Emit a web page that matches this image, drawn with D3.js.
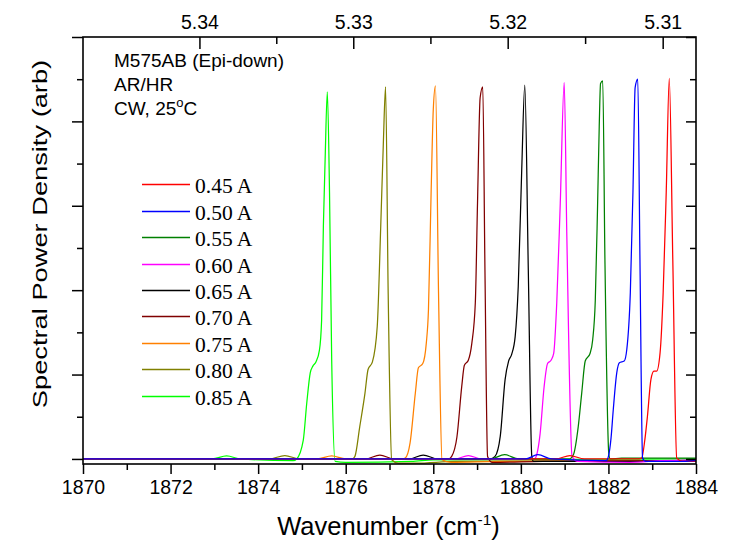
<!DOCTYPE html>
<html>
<head>
<meta charset="utf-8">
<script src="https://cdn.jsdelivr.net/npm/d3@7"></script>
<style>
  html, body { margin: 0; padding: 0; background: #fff; }
  svg { display: block; }
</style>
</head>
<body>
<svg id="chart" width="730" height="544"></svg>
<script>
// ---------------- DATA ----------------
const currents = ["0.45 A", "0.50 A", "0.55 A", "0.60 A", "0.65 A", "0.70 A", "0.75 A", "0.80 A", "0.85 A"];
const colors = ["#ff0000", "#0000ff", "#008000", "#ff00ff", "#000000", "#800000", "#ff8000", "#808000", "#00ff00"];

// spectra: [wavenumber (cm-1), spectral power density (arb)]
const s045 = [[1870,0],[1880.8,0],[1881.12,0.04],[1881.45,0],[1882.7,0],[1882.76,0.01],[1882.83,0.22],[1882.89,0.50],[1882.97,0.94],[1883.04,1.04],[1883.10,1.04],[1883.18,1.26],[1883.25,1.97],[1883.32,3.16],[1883.39,4.51],[1883.47,2.36],[1883.56,0.01],[1883.7,-0.03],[1884,-0.03]];
const s050 = [[1870,0],[1880.1,0],[1880.39,0.05],[1880.7,0],[1881.95,-0.02],[1882.00,0.03],[1882.06,0.25],[1882.11,0.58],[1882.19,1.02],[1882.25,1.14],[1882.36,1.16],[1882.42,1.30],[1882.50,1.97],[1882.56,3.16],[1882.61,4.40],[1882.67,4.50],[1882.72,2.36],[1882.78,0.01],[1882.85,-0.03],[1883.6,-0.03],[1884,-0.02]];
const s055 = [[1870,0],[1879.3,0],[1879.63,0.05],[1879.95,0],[1881.1,0],[1881.20,0.05],[1881.31,0.38],[1881.39,0.78],[1881.47,1.16],[1881.58,1.25],[1881.64,1.41],[1881.70,1.88],[1881.75,2.95],[1881.79,3.94],[1881.82,4.45],[1881.87,4.48],[1881.92,2.36],[1882.01,0.05],[1882.04,0],[1882.3,0.01],[1884,0.01]];
const s060 = [[1870,0],[1878.5,0],[1878.8,0.04],[1879.1,0],[1880.3,0],[1880.33,0.01],[1880.44,0.30],[1880.53,0.85],[1880.61,1.13],[1880.69,1.17],[1880.75,1.25],[1880.82,1.85],[1880.90,3.03],[1880.99,4.46],[1881.05,2.64],[1881.17,0.03],[1881.3,-0.03],[1882.5,-0.04],[1883.2,-0.02],[1884,-0.01]];
const s065 = [[1870,0],[1877.45,0],[1877.77,0.045],[1878.1,0],[1879.3,0],[1879.41,0.03],[1879.53,0.27],[1879.64,0.94],[1879.72,1.16],[1879.79,1.24],[1879.87,1.45],[1879.94,2.04],[1880.02,3.43],[1880.09,4.43],[1880.17,2.24],[1880.25,0.03],[1880.29,-0.03],[1881,-0.03],[1882,-0.03],[1884,-0.02]];
const s070 = [[1870,0],[1876.45,0],[1876.78,0.045],[1877.1,0],[1878.35,0],[1878.42,0.03],[1878.54,0.26],[1878.65,0.86],[1878.71,1.11],[1878.80,1.17],[1878.88,1.37],[1878.96,1.85],[1879.01,3.03],[1879.07,4.28],[1879.13,4.41],[1879.18,2.24],[1879.24,0.03],[1879.35,-0.04],[1880.5,-0.03],[1884,-0.02]];
const s075 = [[1870,0],[1875.35,0],[1875.68,0.035],[1876.0,0],[1877.3,0],[1877.36,0.01],[1877.47,0.19],[1877.59,0.78],[1877.66,1.08],[1877.76,1.13],[1877.84,1.37],[1877.89,1.77],[1877.95,3.15],[1878.00,4.14],[1878.05,4.42],[1878.12,1.96],[1878.20,-0.01],[1878.4,-0.04],[1879.5,-0.03],[1884,-0.02]];
const s080 = [[1870,0],[1874.25,0],[1874.61,0.04],[1874.95,0],[1876.15,0],[1876.21,0.03],[1876.32,0.38],[1876.44,0.78],[1876.51,1.06],[1876.61,1.15],[1876.72,1.57],[1876.80,2.76],[1876.86,3.75],[1876.91,4.41],[1876.97,1.96],[1877.05,-0.01],[1877.2,-0.05],[1877.6,-0.05],[1878.5,-0.03],[1884,-0.02]];
const s085 = [[1870,0],[1872.95,0],[1873.28,0.035],[1873.6,0],[1874.8,-0.02],[1874.88,0],[1875.03,0.22],[1875.11,0.66],[1875.19,1.02],[1875.25,1.10],[1875.32,1.15],[1875.40,1.29],[1875.45,1.65],[1875.49,2.76],[1875.53,3.55],[1875.58,4.35],[1875.63,3.16],[1875.68,1.17],[1875.76,-0.03],[1876.0,-0.04],[1877.5,-0.03],[1878,-0.01],[1884,0]];
const spectra = [s045, s050, s055, s060, s065, s070, s075, s080, s085];
const drawOrder = [8, 7, 6, 5, 4, 3, 2, 0, 1];   // series indices, back to front

const bottomTicks = [1870, 1872, 1874, 1876, 1878, 1880, 1882, 1884];
const bottomMinor = [1871, 1873, 1875, 1877, 1879, 1881, 1883];
const topTicks = [5.34, 5.33, 5.32, 5.31];          // wavelength (µm)
const topMinor = [5.335, 5.325, 5.315];
const yMajor = [0, 1, 2, 3, 4, 5];
const yMinor = [0.5, 1.5, 2.5, 3.5, 4.5];
const notes = ["M575AB (Epi-down)", "AR/HR"];

// ---------------- LAYOUT ----------------
const L = 83, R = 696, T = 37, B = 464;
const svg = d3.select("#chart");
const x = d3.scaleLinear().domain([1870, 1884]).range([L, R]);
const y = d3.scaleLinear().domain([-0.06, 5]).range([B, T]);
const SANS = "'Liberation Sans', Arial, sans-serif";
const SERIF = "'Liberation Serif', 'Times New Roman', serif";

svg.append("defs").append("clipPath").attr("id", "clip")
  .append("rect").attr("x", L).attr("y", T).attr("width", R - L).attr("height", B - T);

// spectra
const line = d3.line().x(d => x(d[0])).y(d => y(d[1])).curve(d3.curveMonotoneX);
const g = svg.append("g").attr("clip-path", "url(#clip)");
drawOrder.forEach(i => {
  g.append("path").datum(spectra[i]).attr("d", line)
    .attr("fill", "none").attr("stroke", colors[i]).attr("stroke-width", 1.25)
    .attr("stroke-linejoin", "round");
});

// axes
function styleAxis(sel, fs) {
  sel.select(".domain").remove();
  sel.selectAll("line").attr("stroke", "#000").attr("stroke-width", 1.5);
  sel.selectAll("text").attr("font-family", SANS).attr("font-size", fs).attr("fill", "#000");
}
// bottom
svg.append("g").attr("transform", `translate(0,${B})`)
  .call(d3.axisBottom(x).tickValues(bottomTicks).tickFormat(d3.format("d")).tickSize(10).tickPadding(6))
  .call(s => styleAxis(s, 19.5));
svg.append("g").attr("transform", `translate(0,${B})`)
  .call(d3.axisBottom(x).tickValues(bottomMinor).tickFormat("").tickSize(6))
  .call(s => styleAxis(s, 19));
// top (wavelength in µm)
svg.append("g").attr("transform", `translate(0,${T})`)
  .call(d3.axisTop(x).tickValues(topTicks.map(l => 1e4 / l)).tickFormat((d, i) => topTicks[i].toFixed(2)).tickSize(-12).tickPadding(8.5))
  .call(s => styleAxis(s, 19.5));
svg.append("g").attr("transform", `translate(0,${T})`)
  .call(d3.axisTop(x).tickValues(topMinor.map(l => 1e4 / l)).tickFormat("").tickSize(-7))
  .call(s => styleAxis(s, 19));
// left (outward)
svg.append("g").attr("transform", `translate(${L},0)`)
  .call(d3.axisLeft(y).tickValues(yMajor).tickFormat("").tickSize(11))
  .call(s => styleAxis(s, 19));
svg.append("g").attr("transform", `translate(${L},0)`)
  .call(d3.axisLeft(y).tickValues(yMinor).tickFormat("").tickSize(6))
  .call(s => styleAxis(s, 19));
// right (inward)
svg.append("g").attr("transform", `translate(${R},0)`)
  .call(d3.axisRight(y).tickValues(yMajor).tickFormat("").tickSize(-10))
  .call(s => styleAxis(s, 19));
svg.append("g").attr("transform", `translate(${R},0)`)
  .call(d3.axisRight(y).tickValues(yMinor).tickFormat("").tickSize(-6))
  .call(s => styleAxis(s, 19));

// frame
svg.append("rect").attr("x", L).attr("y", T).attr("width", R - L).attr("height", B - T)
  .attr("fill", "none").attr("stroke", "#000").attr("stroke-width", 1.6);

// axis titles
const xt = svg.append("text").attr("x", (L + R) / 2 - 1).attr("y", 535)
  .attr("text-anchor", "middle").attr("font-family", SANS).attr("font-size", 25.5).attr("fill", "#000");
xt.append("tspan").text("Wavenumber (cm");
xt.append("tspan").attr("font-size", 15.5).attr("dy", -10).text("-1");
xt.append("tspan").attr("dy", 10).text(")");

svg.append("text")
  .attr("transform", "translate(46.5,234) rotate(-90) scale(1.33,1)")
  .attr("text-anchor", "middle").attr("font-family", SANS).attr("font-size", 20.5).attr("fill", "#000")
  .text("Spectral Power Density (arb)");

// annotations
notes.forEach((t, i) => {
  svg.append("text").attr("x", 114).attr("y", 66.5 + i * 24)
    .attr("font-family", SANS).attr("font-size", 19).attr("fill", "#000").text(t);
});
const cw = svg.append("text").attr("x", 114).attr("y", 114.5)
  .attr("font-family", SANS).attr("font-size", 19).attr("fill", "#000");
cw.append("tspan").text("CW, 25");
cw.append("tspan").attr("font-size", 13).attr("dy", -8).text("o");
cw.append("tspan").attr("dy", 8).text("C");

// legend
const lg = svg.append("g");
currents.forEach((c, i) => {
  const yy = Math.round(184.3 + i * 26.4) + 0.5;
  lg.append("line").attr("x1", 142).attr("x2", 190).attr("y1", yy).attr("y2", yy)
    .attr("stroke", colors[i]).attr("stroke-width", 1.3);
  lg.append("text").attr("x", 195).attr("y", yy + 8)
    .attr("font-family", SERIF).attr("font-size", 21.5).attr("fill", "#000").text(c);
});
</script>
</body>
</html>
